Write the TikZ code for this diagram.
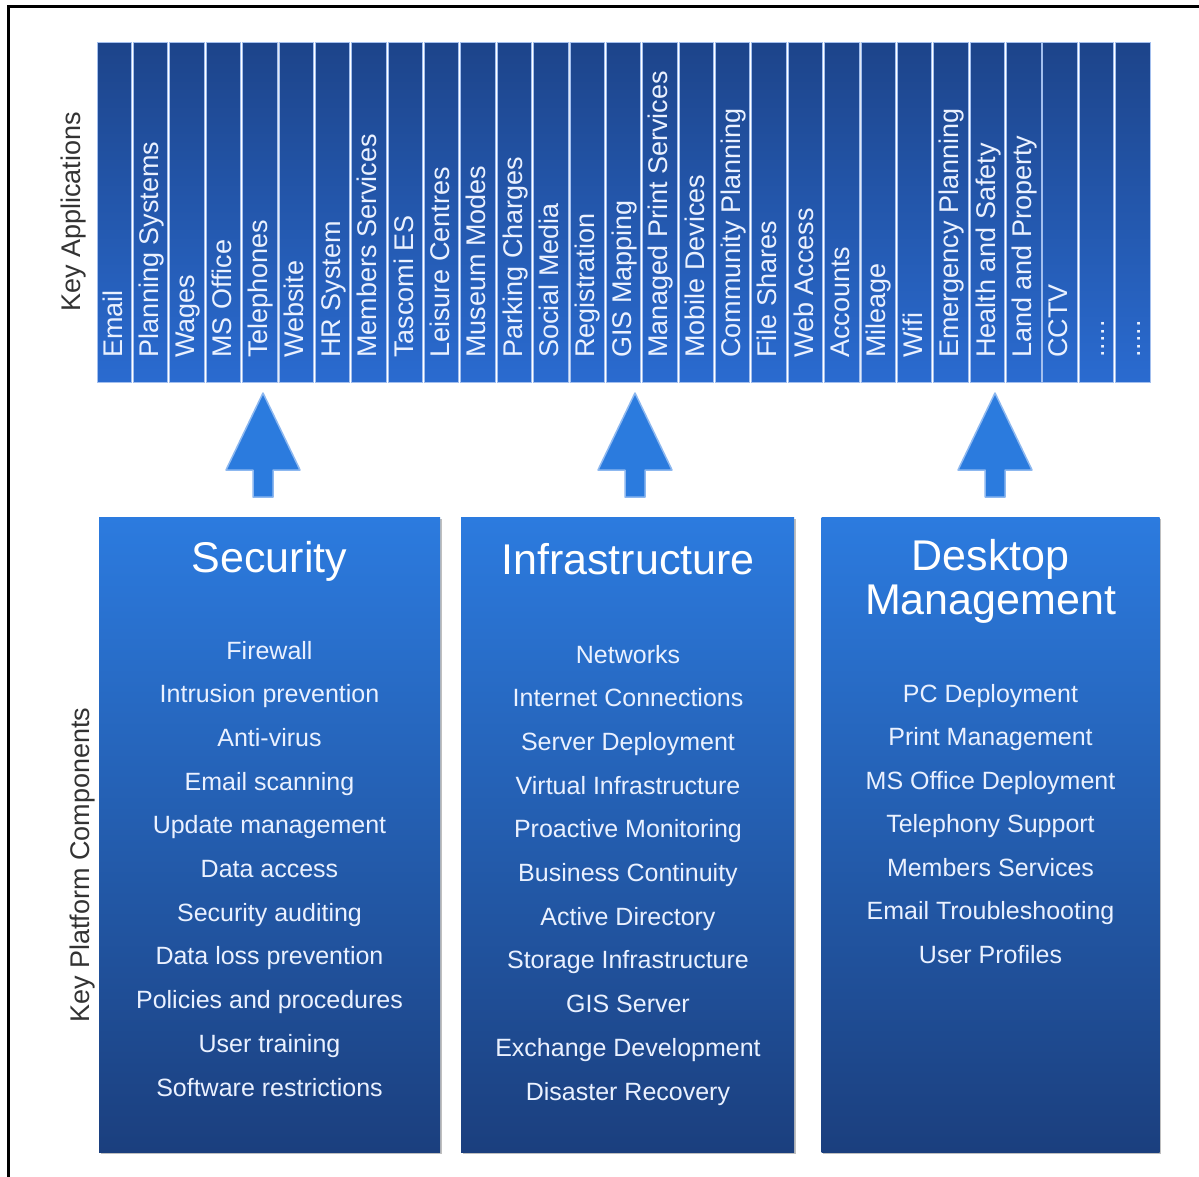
\documentclass[tikz,border=0pt]{standalone}
\usepackage{fontspec}
\setmainfont{Liberation Sans}
\usetikzlibrary{shadows}
\definecolor{colTop}{HTML}{1D448A}
\definecolor{colBot}{HTML}{2A6BD0}
\definecolor{boxTop}{HTML}{2C7BDF}
\definecolor{boxBot}{HTML}{1B3F7E}
\definecolor{arrowBlue}{HTML}{2B7BDE}
\definecolor{arrowHalo}{HTML}{8DB8F0}
\definecolor{labelGray}{HTML}{333333}
\definecolor{itemText}{HTML}{EAF1FF}
\definecolor{colEdge}{HTML}{A3BFEE}
\def\dotslab{.....}
\begin{document}
\begin{tikzpicture}[x=1pt,y=-1pt,
  colbar/.style={top color=colTop,bottom color=colBot,draw=colEdge,line width=0.8pt},
  coltext/.style={rotate=90,anchor=base west,inner sep=0pt,text=itemText,font=\fontsize{27}{32}\selectfont},
  sidelabel/.style={rotate=90,anchor=base west,inner sep=0pt,text=labelGray,font=\fontsize{27}{32}\selectfont},
  panel/.style={top color=boxTop,bottom color=boxBot,draw=none,inner sep=0pt,
    drop shadow={shadow xshift=1.5pt,shadow yshift=-2pt,fill=black,opacity=0.25}},
  paneltitle/.style={anchor=base,inner sep=0pt,text=white,font=\fontsize{43}{44}\selectfont},
  item/.style={anchor=base,inner sep=0pt,text=itemText,font=\fontsize{25}{30}\selectfont},
  blockarrow/.style={fill=arrowBlue,draw=arrowHalo,line width=1.5pt,line join=round},
  pics/uparrow/.style={code={
    \draw[blockarrow] (0,0) -- (37,77) -- (10,77) -- (10,104) -- (-10,104) -- (-10,77) -- (-37,77) -- cycle;}}
]
\useasboundingbox (0,0) rectangle (1199,1176);
\fill[white] (0,0) rectangle (1199,1176);
% frame
\draw[line width=3pt,black] (8,1180) -- (8,6) -- (1203,6);

% application columns
\foreach \lab [count=\i from 0] in {Email,Planning Systems,Wages,MS Office,Telephones,Website,HR System,Members Services,Tascomi ES,Leisure Centres,Museum Modes,Parking Charges,Social Media,Registration,GIS Mapping,Managed Print Services,Mobile Devices,Community Planning,File Shares,Web Access,Accounts,Mileage,Wifi,Emergency Planning,Health and Safety,Land and Property,CCTV,\dotslab,\dotslab}{
  \pgfmathsetmacro\xl{97+\i*36.38}
  \pgfmathsetmacro\xr{\xl+34.4}
  \pgfmathsetmacro\xb{\xl+25}
  \draw[colbar] (\xl,42) rectangle (\xr,382);
  \node[coltext] (col\i) at (\xb,358) {\lab};
}

% side labels
\node[sidelabel] (keyapps) at (80,312) {Key Applications};
\node[sidelabel] (keyplat) at (89,1023) {Key Platform Components};

% arrows
\coordinate (arrA) at (263,393);
\coordinate (arrB) at (635,393);
\coordinate (arrC) at (995,393);
\pic at (arrA) {uparrow};
\pic at (arrB) {uparrow};
\pic at (arrC) {uparrow};

% panels
\node[panel,minimum width=341pt,minimum height=635pt] (secbox) at (269.5,834.5) {};
\node[panel,minimum width=333pt,minimum height=635pt] (infbox) at (627.5,834.5) {};
\node[panel,minimum width=338pt,minimum height=635pt] (deskbox) at (990.5,834.5) {};

\node[paneltitle] (sectitle) at (269.5,572) {Security};
\node[paneltitle] (inftitle) at (628,574) {Infrastructure};
\node[paneltitle] (desktitleA) at (990.5,570) {Desktop};
\node[paneltitle] (desktitleB) at (990.5,614) {Management};

\foreach \t [count=\k from 0] in {Firewall,Intrusion prevention,Anti-virus,Email scanning,Update management,Data access,Security auditing,Data loss prevention,Policies and procedures,User training,Software restrictions}{
  \node[item] (sec\k) at (269.5,{659+\k*43.7}) {\t};
}
\foreach \t [count=\k from 0] in {Networks,Internet Connections,Server Deployment,Virtual Infrastructure,Proactive Monitoring,Business Continuity,Active Directory,Storage Infrastructure,GIS Server,Exchange Development,Disaster Recovery}{
  \node[item] (inf\k) at (628,{663+\k*43.7}) {\t};
}
\foreach \t [count=\k from 0] in {PC Deployment,Print Management,MS Office Deployment,Telephony Support,Members Services,Email Troubleshooting,User Profiles}{
  \node[item] (desk\k) at (990.5,{702+\k*43.5}) {\t};
}
\end{tikzpicture}
\end{document}
